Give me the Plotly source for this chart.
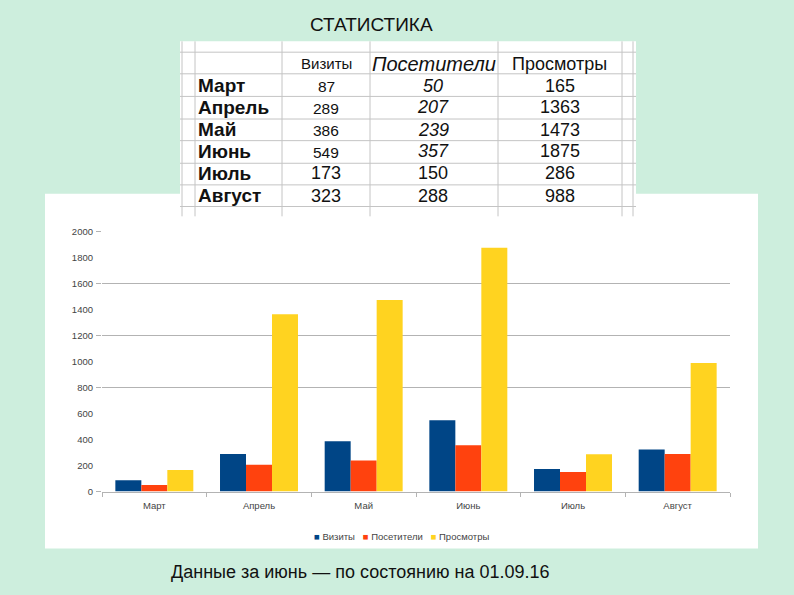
import plotly.graph_objects as go

# ---- data ----
months = ["Март", "Апрель", "Май", "Июнь", "Июль", "Август"]
visits = [87, 289, 386, 549, 173, 323]
visitors = [50, 207, 239, 357, 150, 288]
views = [165, 1363, 1473, 1875, 286, 988]
series_names = ["Визиты", "Посетители", "Просмотры"]
series_colors = ["#004586", "#ff420e", "#ffd320"]
y_ticks = [0, 200, 400, 600, 800, 1000, 1200, 1400, 1600, 1800, 2000]
y_grid = [0, 800, 1200, 1600, 2000]
y_max = 2000

W, H = 794, 587   # rendered drawing height of the page
BG = "#cdeedd"
FONT = "Liberation Sans, Arial, sans-serif"


def px(x):
    return x / W


def py(y):
    return 1 - y / H


fig = go.Figure()
for name, vals, col in zip(series_names, [visits, visitors, views], series_colors):
    fig.add_trace(go.Bar(x=months, y=vals, name=name, marker_color=col,
                         marker_line_width=0, showlegend=False))
# helper trace so the gridline axis is drawn
fig.add_trace(go.Scatter(x=months, y=[None] * len(months), yaxis="y2",
                         showlegend=False, hoverinfo="skip", mode="lines"))

shapes = []
# white chart panel
shapes.append(dict(type="rect", xref="paper", yref="paper",
                   x0=px(45), x1=px(758), y0=py(553), y1=py(192),
                   fillcolor="white", line_width=0, layer="below"))
# table background
shapes.append(dict(type="rect", xref="paper", yref="paper",
                   x0=px(180), x1=px(636), y0=py(215), y1=py(37),
                   fillcolor="white", line_width=0, layer="below"))
grid_col = "#c4c4c4"
for yy in [48, 70, 93, 116, 138, 161, 183, 205]:
    shapes.append(dict(type="line", xref="paper", yref="paper",
                       x0=px(180), x1=px(636), y0=py(yy), y1=py(yy),
                       line=dict(color=grid_col, width=1), layer="below"))
for xx in [182, 195, 282, 370, 498, 622, 633]:
    shapes.append(dict(type="line", xref="paper", yref="paper",
                       x0=px(xx), x1=px(xx), y0=py(215), y1=py(37),
                       line=dict(color=grid_col, width=1), layer="below"))

ann = []


def add_text(text, x, y, size, xanchor="center", color="#111"):
    ann.append(dict(text=text, x=px(x), y=py(y), xref="paper", yref="paper",
                    xanchor=xanchor, yanchor="middle", showarrow=False,
                    font=dict(family=FONT, size=size, color=color)))


add_text("СТАТИСТИКА", 371, 20, 19)
add_text("Данные за июнь — по состоянию на 01.09.16", 360, 577, 18)

# table header
hdr_x = [326, 434, 559]
hdr_size = [15, 20, 18]
hdr_italic = [False, True, False]
for name, hx, hs, it in zip(series_names, hdr_x, hdr_size, hdr_italic):
    add_text(f"<i>{name}</i>" if it else name, hx, 60, hs)

row_y = [82, 104, 127, 149, 171, 194]
for i, m in enumerate(months):
    ry = row_y[i]
    add_text(f"<b>{m}</b>", 196, ry, 19, xanchor="left")
    small = i < 4
    add_text(str(visits[i]), 326, ry + (1 if small else 0), 15.5 if small else 18)
    add_text(f"<i>{visitors[i]}</i>" if i < 4 else str(visitors[i]), 433, ry, 18)
    add_text(str(views[i]), 560, ry, 18)

# legend (small squares + names, from the series arrays)
leg_parts = [f"<span style='color:{c}'>■</span>\u00a0{n}" for n, c in zip(series_names, series_colors)]
add_text("\u00a0\u00a0\u00a0".join(leg_parts), 401, 541, 9.5, color="#444")

axis_col = "#b3b3b3"
fig.update_layout(
    width=W, height=H, autosize=False,
    margin=dict(l=0, r=0, t=0, b=0),
    paper_bgcolor=BG,
    plot_bgcolor="rgba(0,0,0,0)",
    barmode="group", bargap=0.255, bargroupgap=0,
    font=dict(family=FONT, size=9, color="#444"),
    shapes=shapes, annotations=ann,
    showlegend=False,
    xaxis=dict(domain=[px(102), px(730)], showgrid=False, showline=True,
               linecolor=axis_col, linewidth=1, ticks="outside", tickson="boundaries",
               ticklen=4, tickcolor=axis_col, tickfont=dict(size=9.5, color="#444"),
               ticklabelstandoff=5),
    yaxis=dict(domain=[py(495), py(230)], range=[0, y_max + 3], tickvals=y_ticks,
               showgrid=False, zeroline=False, showline=False, ticks="",
               ticklabelstandoff=8, tickfont=dict(size=9.5, color="#444")),
    yaxis2=dict(overlaying="y", range=[0, y_max + 3], tickvals=y_grid, showgrid=True,
                gridcolor=axis_col, gridwidth=1, showticklabels=False,
                ticks="outside", ticklen=5, tickcolor=axis_col, zeroline=False,
                side="left"),
)

fig.write_html("out.html",
               config={"displayModeBar": False, "responsive": False},
               post_script=("document.body.style.margin='0';"
                            "document.body.style.overflow='hidden';"
                            f"document.body.style.background='{BG}';"
                            f"document.documentElement.style.background='{BG}';"))
